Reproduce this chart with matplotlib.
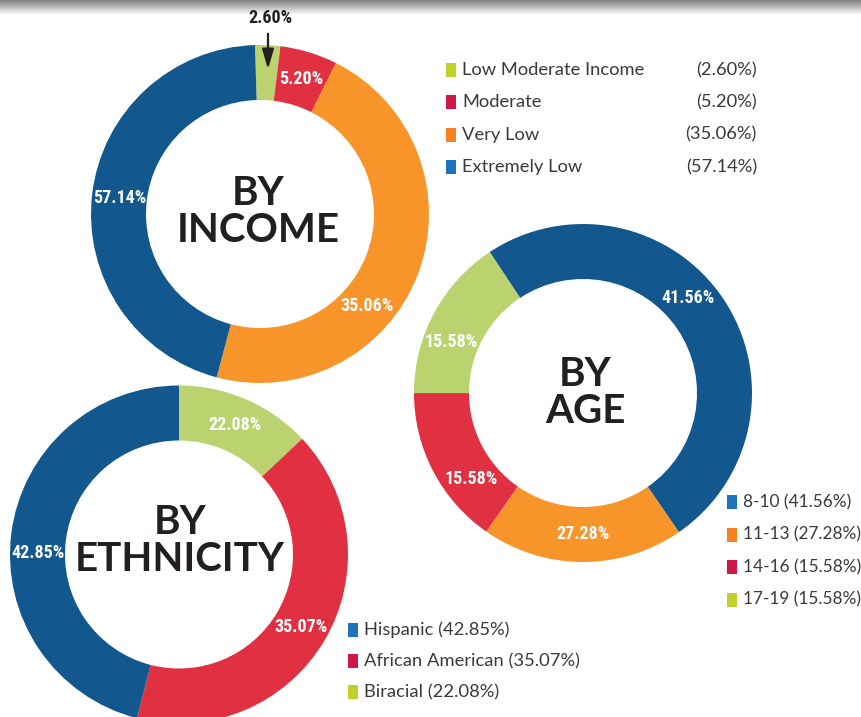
import numpy as np
import matplotlib
matplotlib.use("Agg")
import matplotlib.pyplot as plt
from matplotlib.patches import Rectangle
from matplotlib.colors import LinearSegmentedColormap

W, H = 861, 717

# printed values
income_labels = ["Low Moderate Income", "Moderate", "Very Low", "Extremely Low"]
income_pct = [2.60, 5.20, 35.06, 57.14]
# slice sizes as drawn in the original graphic (they don't follow the printed %)
income_arc = [2.4, 5.5, 46.7, 45.4]

age_labels = ["8-10", "11-13", "14-16", "17-19"]
age_pct = [41.56, 27.28, 15.58, 15.58]
age_arc = [49.7, 19.3, 15.3, 15.7]

eth_labels = ["Hispanic", "African American", "Biracial"]
eth_pct = [42.85, 35.07, 22.08]
eth_arc = [46.0, 41.0, 13.0]

# ring colours / legend swatch colours
BLUE, GREEN, RED, ORANGE = "#12588f", "#bad36f", "#e03042", "#f7942a"
L_BLUE, L_GREEN, L_RED, L_ORANGE = "#1d74bd", "#c2cf2c", "#cf1848", "#f7821f"

PCT_FONT = ["Roboto Condensed", "Roboto", "DejaVu Sans"]
TITLE_FONT = ["Lato", "DejaVu Sans"]
LEG_FONT = ["Lato", "DejaVu Sans"]
R, RING = 169, 55


def donut(ax, arcs, pcts, colors, cx, cy, start, nudges, show):
    cy = H - cy
    wedges, _ = ax.pie(arcs, colors=colors, startangle=start, counterclock=False,
                       radius=R, center=(cx, cy), frame=True,
                       wedgeprops=dict(width=RING, edgecolor="none", linewidth=0))
    for w, p, nd, s in zip(wedges, pcts, nudges, show):
        if not s:
            continue
        a = np.deg2rad((w.theta1 + w.theta2) / 2 + nd)
        rr = R - RING / 2
        ax.text(cx + rr * np.cos(a), cy + rr * np.sin(a), f"{p:.2f}%",
                color="white", fontsize=13, fontweight="bold", family=PCT_FONT,
                ha="center", va="center")


def title(ax, txt, x, y):
    ax.text(x, H - y, txt, ha="center", va="center", fontsize=29, fontweight="bold",
            family=TITLE_FONT, color="#231f20", linespacing=1.0)


def legend_row(ax, x, y, color, txt, right=None, pct=None, size=13.2):
    ax.add_patch(Rectangle((x, H - y - 7), 10, 14, color=color, lw=0))
    ax.text(x + 16, H - y, txt, ha="left", va="center", fontsize=size,
            family=LEG_FONT, color="#3a3a3a")
    if pct is not None:
        ax.text(right, H - y, pct, ha="right", va="center", fontsize=size,
                family=LEG_FONT, color="#3a3a3a")


fig = plt.figure(figsize=(W / 100, H / 100), dpi=100)
ax = fig.add_axes([0, 0, 1, 1])

# grey shading along the top edge
cmap = LinearSegmentedColormap.from_list("shade", ["#808080", "#ffffff"])
ax.imshow(np.linspace(0, 1, 50).reshape(-1, 1), cmap=cmap, aspect="auto",
          extent=[0, W, H - 15, H], zorder=0)

# by income
donut(ax, income_arc, income_pct, [GREEN, RED, ORANGE, BLUE], 260, 214, 91.7,
      [0, 0, -20, 0], [False, True, True, True])
title(ax, "BY\nINCOME", 258, 212)
ax.annotate("", xy=(268, H - 72), xytext=(268, H - 31),
            arrowprops=dict(arrowstyle="-|>,head_width=0.35,head_length=1.2",
                            color="#231f20", lw=1.6))
ax.text(270, H - 18, f"{income_pct[0]:.2f}%", ha="center", va="center", fontsize=13,
        fontweight="bold", family=PCT_FONT, color="#231f20")
for i, (lab, p, c) in enumerate(zip(income_labels, income_pct,
                                    [L_GREEN, L_RED, L_ORANGE, L_BLUE])):
    legend_row(ax, 446, 70 + i * 32.3, c, lab, right=757, pct=f"({p:.2f}%)")

# by age
donut(ax, age_arc, age_pct, [BLUE, ORANGE, RED, GREEN], 583, 393, 123.5,
      [8, 0, 10, 7], [True] * 4)
title(ax, "BY\nAGE", 585, 393)
for i, (lab, p, c) in enumerate(zip(age_labels, age_pct,
                                    [L_BLUE, L_ORANGE, L_RED, L_GREEN])):
    legend_row(ax, 727, 502 + i * 32.5, c, f"{lab} ({p:.2f}%)", size=12.4)

# by ethnicity (ring runs clockwise from the top: Biracial, African American, Hispanic)
donut(ax, eth_arc[::-1], eth_pct[::-1], [GREEN, RED, BLUE], 179, 554.5, 90,
      [0, 0, 6.5], [True] * 3)
title(ax, "BY\nETHNICITY", 180, 541)
for i, (lab, p, c) in enumerate(zip(eth_labels, eth_pct, [L_BLUE, L_RED, L_GREEN])):
    legend_row(ax, 348, 630 + i * 31, c, f"{lab} ({p:.2f}%)")

ax.set_xlim(0, W)
ax.set_ylim(0, H)
ax.set_aspect("equal")
ax.axis("off")

fig.savefig("out.png", dpi=100, facecolor="white")
